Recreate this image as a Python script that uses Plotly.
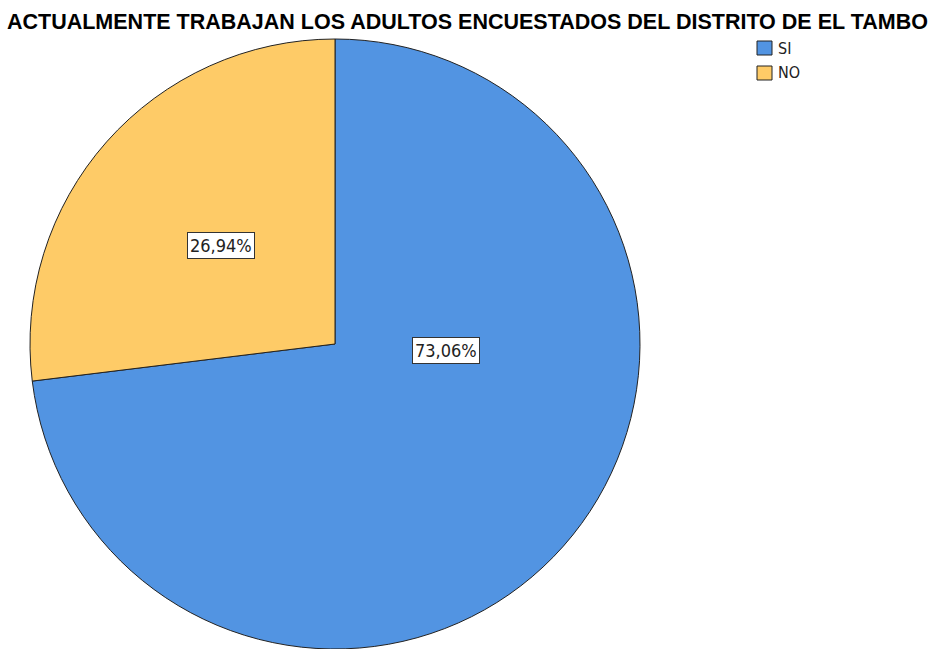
import plotly.graph_objects as go

title_text = "ACTUALMENTE TRABAJAN LOS ADULTOS ENCUESTADOS DEL DISTRITO DE EL TAMBO"
categories = ["SI", "NO"]
percentages = [73.06, 26.94]
colors = ["#5294E2", "#FECB67"]

W, H = 935, 649
T = 39  # top margin
PH = H - T  # plot height


def px_x(x):
    return x / W


def px_y(y):
    return (H - y) / PH


# label anchor positions (pixel positions as in the original chart)
label_px = [(446, 350), (221, 245)]

NARROW = "Liberation Sans Narrow, DejaVu Sans Condensed, Arial Narrow, sans-serif"

fig = go.Figure()
fig.add_trace(go.Pie(
    labels=categories,
    values=percentages,
    sort=False,
    direction="clockwise",
    rotation=0,
    textinfo="none",
    hoverinfo="label+percent",
    showlegend=False,
    marker=dict(colors=colors, line=dict(color="#222222", width=1)),
    domain=dict(x=[px_x(335 - 305), px_x(335 + 305)], y=[0, 1]),
))

for cat, val, (lx, ly) in zip(categories, percentages, label_px):
    fig.add_annotation(
        x=px_x(lx), y=px_y(ly), xref="paper", yref="paper",
        xanchor="center", yanchor="middle",
        text=f"{val:.2f}%".replace(".", ","),
        showarrow=False,
        font=dict(family=NARROW, size=18, color="#222222"),
        bgcolor="white", bordercolor="#333333", borderwidth=1, borderpad=2,
    )

fig.add_annotation(
    x=0.5, y=px_y(22.5), xref="paper", yref="paper",
    text=f"<b>{title_text}</b>", showarrow=False,
    font=dict(family="Liberation Sans, Arial", size=21.5, color="black"),
    xanchor="center", yanchor="middle",
)

# legend drawn manually
legend_y = [48, 73]
for cat, col, ly in zip(categories, colors, legend_y):
    fig.add_shape(
        type="rect", xref="paper", yref="paper",
        x0=px_x(757), x1=px_x(772), y0=px_y(ly + 7), y1=px_y(ly - 7),
        fillcolor=col, line=dict(color="#222222", width=1),
    )
    fig.add_annotation(
        x=px_x(776), y=px_y(ly), xref="paper", yref="paper",
        text=cat, showarrow=False, xanchor="left", yanchor="middle",
        font=dict(family=NARROW, size=16, color="#222222"),
    )

fig.update_layout(
    width=W, height=H,
    margin=dict(l=0, r=0, t=T, b=0),
    paper_bgcolor="white", plot_bgcolor="white",
    showlegend=False,
)

fig.write_html("out.html", post_script="document.body.style.margin='0';",
               config={"displayModeBar": False})
